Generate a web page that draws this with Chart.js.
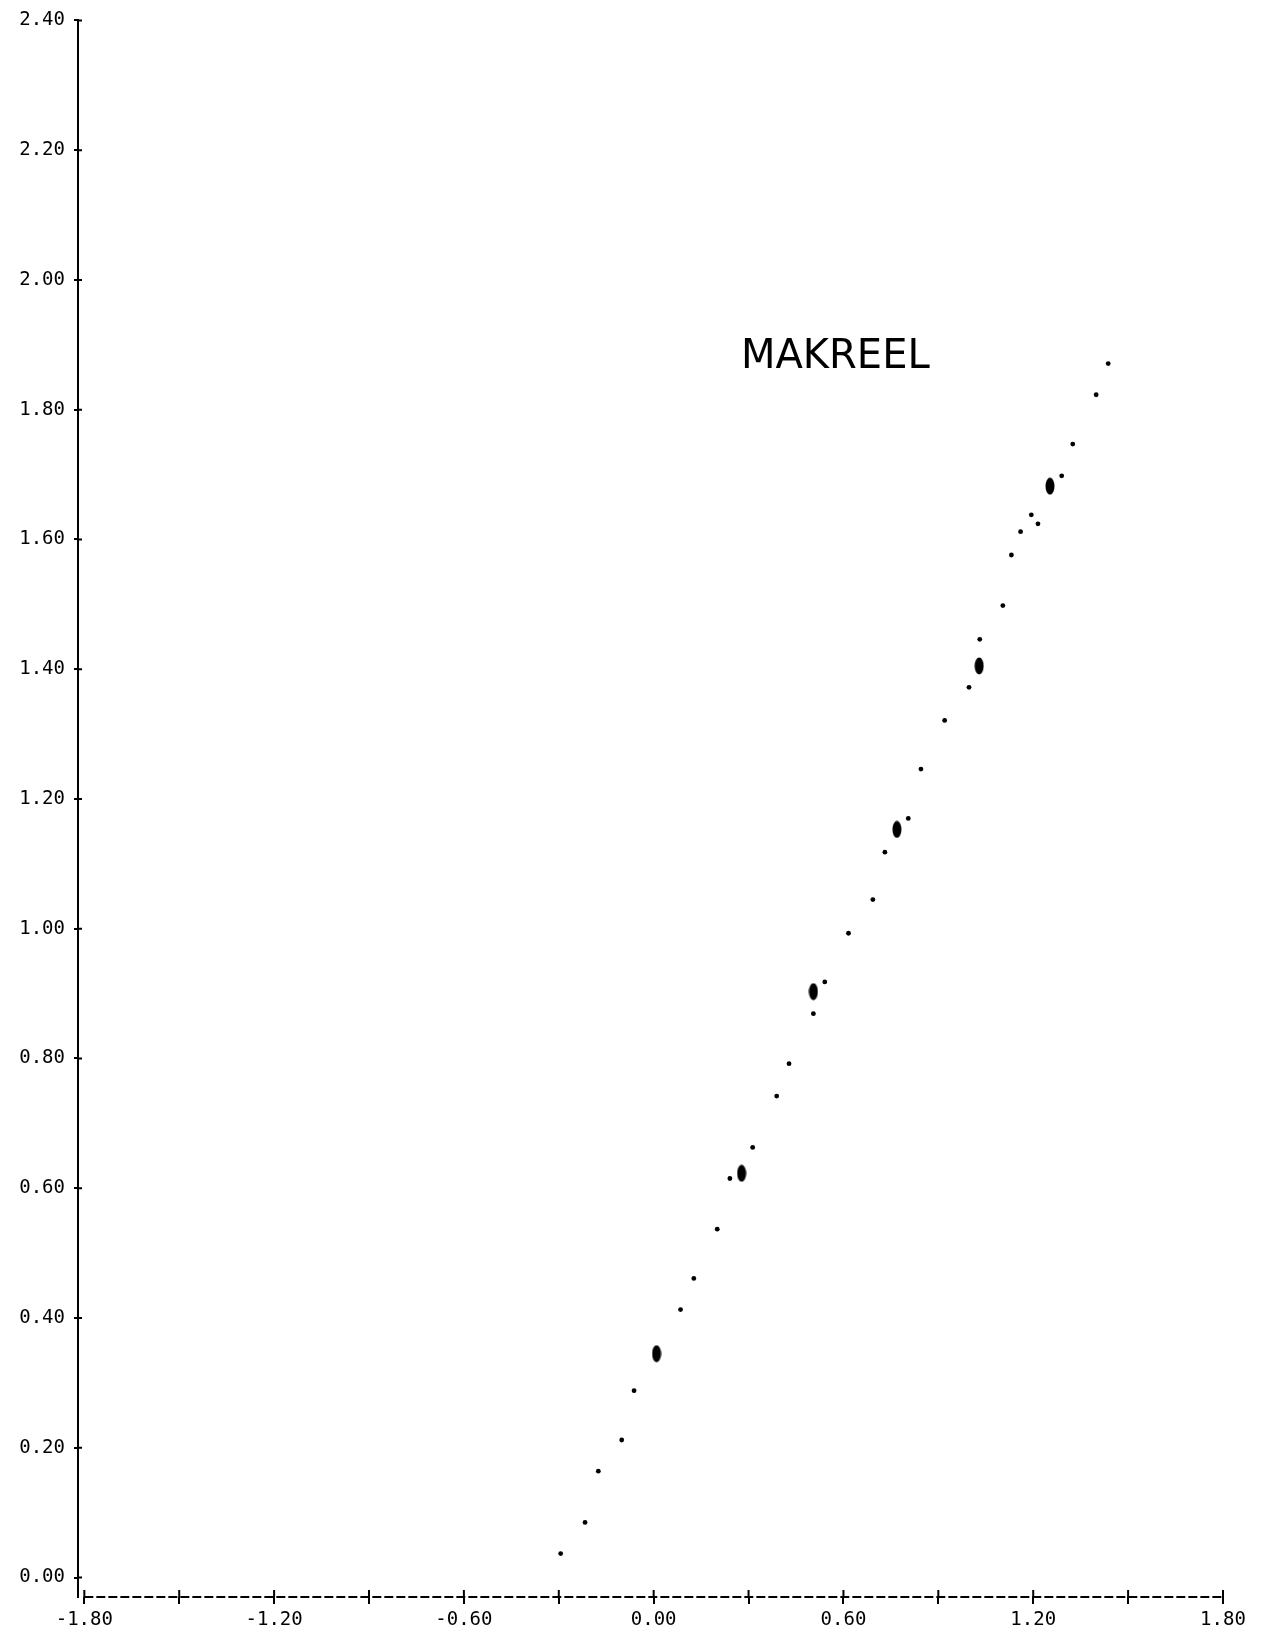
<!DOCTYPE html>
<html>
<head>
<meta charset="utf-8">
<title>Makreel</title>
<script src="https://cdn.jsdelivr.net/npm/chart.js@4"></script>
<style>
    html, body { margin: 0; padding: 0; background: #fff; }
    canvas { display: block; }
</style>
</head>
<body>
<canvas id="makreelChart" width="1267" height="1631"></canvas>
<script>
// single observations
const pointX = [-0.294, -0.217, -0.175, -0.101, -0.062, 0.085, 0.127, 0.201, 0.241, 0.313,
                0.389, 0.428, 0.505, 0.541, 0.616, 0.693, 0.731, 0.805, 0.845, 0.920,
                0.997, 1.031, 1.104, 1.131, 1.160, 1.194, 1.215, 1.290, 1.325, 1.399, 1.437];
const pointY = [0.037, 0.085, 0.164, 0.212, 0.288, 0.413, 0.461, 0.537, 0.615, 0.663,
                0.742, 0.792, 0.869, 0.918, 0.993, 1.045, 1.118, 1.170, 1.246, 1.321,
                1.372, 1.446, 1.498, 1.576, 1.612, 1.638, 1.624, 1.698, 1.747, 1.823, 1.871];

// overlapping observations (the heavy blobs)
const heavyX = [0.009, 0.278, 0.505, 0.769, 1.029, 1.253];
const heavyY = [0.345, 0.623, 0.903, 1.153, 1.405, 1.682];

const xTicks = [-1.8, -1.5, -1.2, -0.9, -0.6, -0.3, 0, 0.3, 0.6, 0.9, 1.2, 1.5, 1.8];
const xTickLabels = ['-1.80', '', '-1.20', '', '-0.60', '', '0.00', '', '0.60', '', '1.20', '', '1.80'];
const yTicks = [0, 0.2, 0.4, 0.6, 0.8, 1.0, 1.2, 1.4, 1.6, 1.8, 2.0, 2.2, 2.4];
const yTickLabels = ['0.00', '0.20', '0.40', '0.60', '0.80', '1.00', '1.20', '1.40', '1.60', '1.80', '2.00', '2.20', '2.40'];

const titleText = 'MAKREEL';
const titleX = 0.276;
const titleY = 1.864;

const tickFont = { family: '"DejaVu Sans Mono", "Liberation Mono", monospace', size: 19 };

// elongated dot used for the stacked points
function makeBlob() {
    const c = document.createElement('canvas');
    c.width = 10;
    c.height = 18;
    const g = c.getContext('2d');
    g.fillStyle = '#000';
    g.beginPath();
    g.ellipse(5, 9, 4.5, 8.5, 0, 0, Math.PI * 2);
    g.fill();
    return c;
}

// plotter style axes: dashed x axis, ticks drawn through the axis
const plotterAxes = {
    id: 'plotterAxes',
    afterDraw(chart) {
        const { ctx, chartArea, scales } = chart;
        const xs = scales.x;
        const ys = scales.y;
        ctx.save();
        ctx.strokeStyle = '#000';
        ctx.lineWidth = 2;

        ctx.setLineDash([9, 3]);
        ctx.beginPath();
        ctx.moveTo(xs.getPixelForValue(xTicks[0]), chartArea.bottom);
        ctx.lineTo(xs.getPixelForValue(xTicks[xTicks.length - 1]), chartArea.bottom);
        ctx.stroke();

        ctx.setLineDash([]);
        ctx.beginPath();
        xs.ticks.forEach(t => {
            const px = xs.getPixelForValue(t.value);
            ctx.moveTo(px, chartArea.bottom);
            ctx.lineTo(px, chartArea.bottom - 7);
        });
        ys.ticks.forEach(t => {
            const py = ys.getPixelForValue(t.value);
            ctx.moveTo(chartArea.left, py);
            ctx.lineTo(chartArea.left + 4, py);
        });
        ctx.stroke();
        ctx.restore();
    }
};

const titleLabel = {
    id: 'titleLabel',
    afterDraw(chart) {
        const { ctx, scales } = chart;
        ctx.save();
        ctx.fillStyle = '#000';
        ctx.font = '40px "DejaVu Sans", "Liberation Sans", sans-serif';
        ctx.textAlign = 'left';
        ctx.textBaseline = 'alphabetic';
        ctx.fillText(titleText, scales.x.getPixelForValue(titleX), scales.y.getPixelForValue(titleY));
        ctx.restore();
    }
};

const ctx = document.getElementById('makreelChart').getContext('2d');
new Chart(ctx, {
    type: 'scatter',
    data: {
        datasets: [
            {
                label: 'Makreel',
                data: pointX.map((x, i) => ({ x: x, y: pointY[i] })),
                pointRadius: 2.4,
                pointBorderWidth: 0,
                pointBackgroundColor: '#000'
            },
            {
                label: 'Makreel (meervoudig)',
                data: heavyX.map((x, i) => ({ x: x, y: heavyY[i] })),
                pointStyle: makeBlob(),
                pointRadius: 9
            }
        ]
    },
    options: {
        responsive: false,
        animation: false,
        layout: { padding: { top: 19, right: 44, left: 0, bottom: 0 } },
        plugins: {
            legend: { display: false },
            tooltip: { enabled: false }
        },
        scales: {
            x: {
                type: 'linear',
                min: -1.82,
                max: 1.80,
                afterBuildTicks: scale => { scale.ticks = xTicks.map(v => ({ value: v })); },
                afterFit: scale => { scale.height = 34; },
                ticks: {
                    autoSkip: false,
                    maxRotation: 0,
                    padding: 5,
                    color: '#000',
                    font: tickFont,
                    callback: (value, index) => xTickLabels[index]
                },
                grid: { drawOnChartArea: false, tickLength: 7, color: '#000', lineWidth: 2 },
                border: { display: false }
            },
            y: {
                type: 'linear',
                min: -0.03,
                max: 2.40,
                afterBuildTicks: scale => { scale.ticks = yTicks.map(v => ({ value: v })); },
                afterFit: scale => { scale.width = 78; },
                ticks: {
                    autoSkip: false,
                    padding: 9,
                    color: '#000',
                    font: tickFont,
                    callback: (value, index) => yTickLabels[index]
                },
                grid: { drawOnChartArea: false, tickLength: 4, color: '#000', lineWidth: 2 },
                border: { color: '#000', width: 2 }
            }
        }
    },
    plugins: [plotterAxes, titleLabel]
});
</script>
</body>
</html>
